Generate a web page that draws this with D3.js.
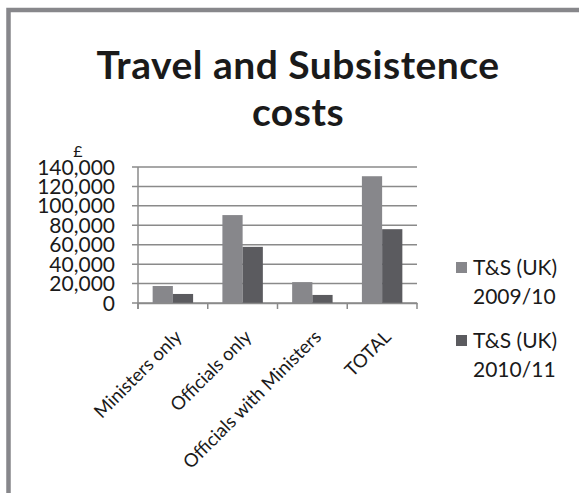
<!DOCTYPE html>
<html lang="en">
  <head>
    <meta charset="UTF-8" />
    <title>Travel and Subsistence costs</title>
    <style>
      body {
        margin: 0;
        background: #fff;
      }
      text {
        font-family: Lato, "Open Sans", sans-serif;
        fill: #1a1a1a;
      }
      .grid line {
        stroke: #8a8a8a;
        stroke-width: 1.5px;
      }
    </style>
  </head>
  <body>
    <svg width="579" height="493"></svg>

    <script src="https://d3js.org/d3.v7.min.js"></script>
    <script>
      const categories = [
        "Ministers only",
        "Officials only",
        "Officials with Ministers",
        "TOTAL",
      ];
      const seriesNames = ["T&S (UK) 2009/10", "T&S (UK) 2010/11"];
      const legendLines = [
        ["T&S (UK)", "2009/10"],
        ["T&S (UK)", "2010/11"],
      ];
      const values2009 = [17500, 90500, 21500, 130500];
      const values2010 = [9300, 57800, 8300, 76000];
      const yTicks = [0, 20000, 40000, 60000, 80000, 100000, 120000, 140000];
      const colors = ["#87878b", "#5b5b5f"];

      const svg = d3.select("svg");

      // chart frame (only top and left edges visible)
      svg.append("rect")
        .attr("x", 8.5).attr("y", 10)
        .attr("width", 600).attr("height", 520)
        .attr("fill", "none")
        .attr("stroke", "#87878b")
        .attr("stroke-width", 4.5);

      // title
      const title = svg.append("text")
        .attr("x", 298)
        .attr("text-anchor", "middle")
        .style("font-weight", "bold")
        .style("font-size", "39px")
        .style("letter-spacing", "0.5px");
      title.append("tspan").attr("x", 298).attr("y", 79).text("Travel and Subsistence");
      title.append("tspan").attr("x", 298).attr("y", 126).text("costs");

      const margin = { left: 138, right: 417, top: 167, bottom: 303 };

      const x = d3.scaleBand()
        .domain(categories)
        .range([margin.left, margin.right])
        .paddingInner(0.42)
        .paddingOuter(0.21);

      const xSub = d3.scaleBand()
        .domain(seriesNames)
        .range([0, x.bandwidth()]);

      const y = d3.scaleLinear()
        .domain([0, 140000])
        .range([margin.bottom, margin.top]);

      // gridlines
      svg.append("g")
        .attr("class", "grid")
        .selectAll("line")
        .data(yTicks)
        .join("line")
        .attr("x1", margin.left - 6)
        .attr("x2", margin.right)
        .attr("y1", (d) => y(d))
        .attr("y2", (d) => y(d));

      // y axis line
      svg.append("line")
        .attr("x1", margin.left).attr("x2", margin.left)
        .attr("y1", margin.top).attr("y2", margin.bottom + 6)
        .attr("stroke", "#8a8a8a")
        .attr("stroke-width", 1.5);

      // y tick labels
      svg.append("g")
        .selectAll("text")
        .data(yTicks)
        .join("text")
        .attr("x", 115)
        .attr("y", (d) => y(d))
        .attr("dy", "0.36em")
        .attr("text-anchor", "end")
        .style("font-size", "21px")
        .text((d) => d3.format(",")(d));

      // currency label
      svg.append("text")
        .attr("x", 78)
        .attr("y", 157)
        .attr("text-anchor", "middle")
        .style("font-size", "16px")
        .text("£");

      // bars
      const rows = categories.map((c, i) => ({
        cat: c,
        vals: [values2009[i], values2010[i]],
      }));

      const groups = svg.append("g")
        .selectAll("g")
        .data(rows)
        .join("g")
        .attr("transform", (d) => `translate(${x(d.cat)},0)`);

      groups.selectAll("rect")
        .data((d) => d.vals.map((v, j) => ({ name: seriesNames[j], v, j })))
        .join("rect")
        .attr("x", (d) => xSub(d.name))
        .attr("width", xSub.bandwidth())
        .attr("y", (d) => y(d.v))
        .attr("height", (d) => y(0) - y(d.v))
        .attr("fill", (d) => colors[d.j]);

      // x axis
      const xAxis = d3.axisBottom(x).tickSize(0).tickFormat("");
      const xg = svg.append("g")
        .attr("transform", `translate(0,${margin.bottom})`)
        .call(xAxis);
      xg.select(".domain").attr("stroke", "#8a8a8a").attr("stroke-width", 1.5);

      const boundaries = d3.range(categories.length + 1).map(
        (i) => margin.left + i * ((margin.right - margin.left) / categories.length)
      );
      svg.append("g")
        .selectAll("line")
        .data(boundaries)
        .join("line")
        .attr("x1", (d) => d).attr("x2", (d) => d)
        .attr("y1", margin.bottom).attr("y2", margin.bottom + 6)
        .attr("stroke", "#8a8a8a")
        .attr("stroke-width", 1.5);

      // rotated category labels
      svg.append("g")
        .selectAll("text")
        .data(categories)
        .join("text")
        .attr("text-anchor", "end")
        .style("font-size", "18.5px")
        .attr("transform", (d) =>
          `translate(${x(d) + x.bandwidth() / 2 + 10},${margin.bottom + 35}) rotate(-45)`)
        .text((d) => d);

      // legend
      const legend = svg.append("g")
        .selectAll("g")
        .data(legendLines)
        .join("g")
        .attr("transform", (d, i) => `translate(456,${262 + i * 73})`);

      legend.append("rect")
        .attr("x", 0).attr("y", 0)
        .attr("width", 11).attr("height", 11)
        .attr("fill", (d, i) => colors[i]);

      legend.append("text")
        .style("font-size", "21px")
        .selectAll("tspan")
        .data((d) => d)
        .join("tspan")
        .attr("x", 17)
        .attr("y", (d, i) => 13 + i * 29)
        .text((d) => d);
    </script>
  </body>
</html>
